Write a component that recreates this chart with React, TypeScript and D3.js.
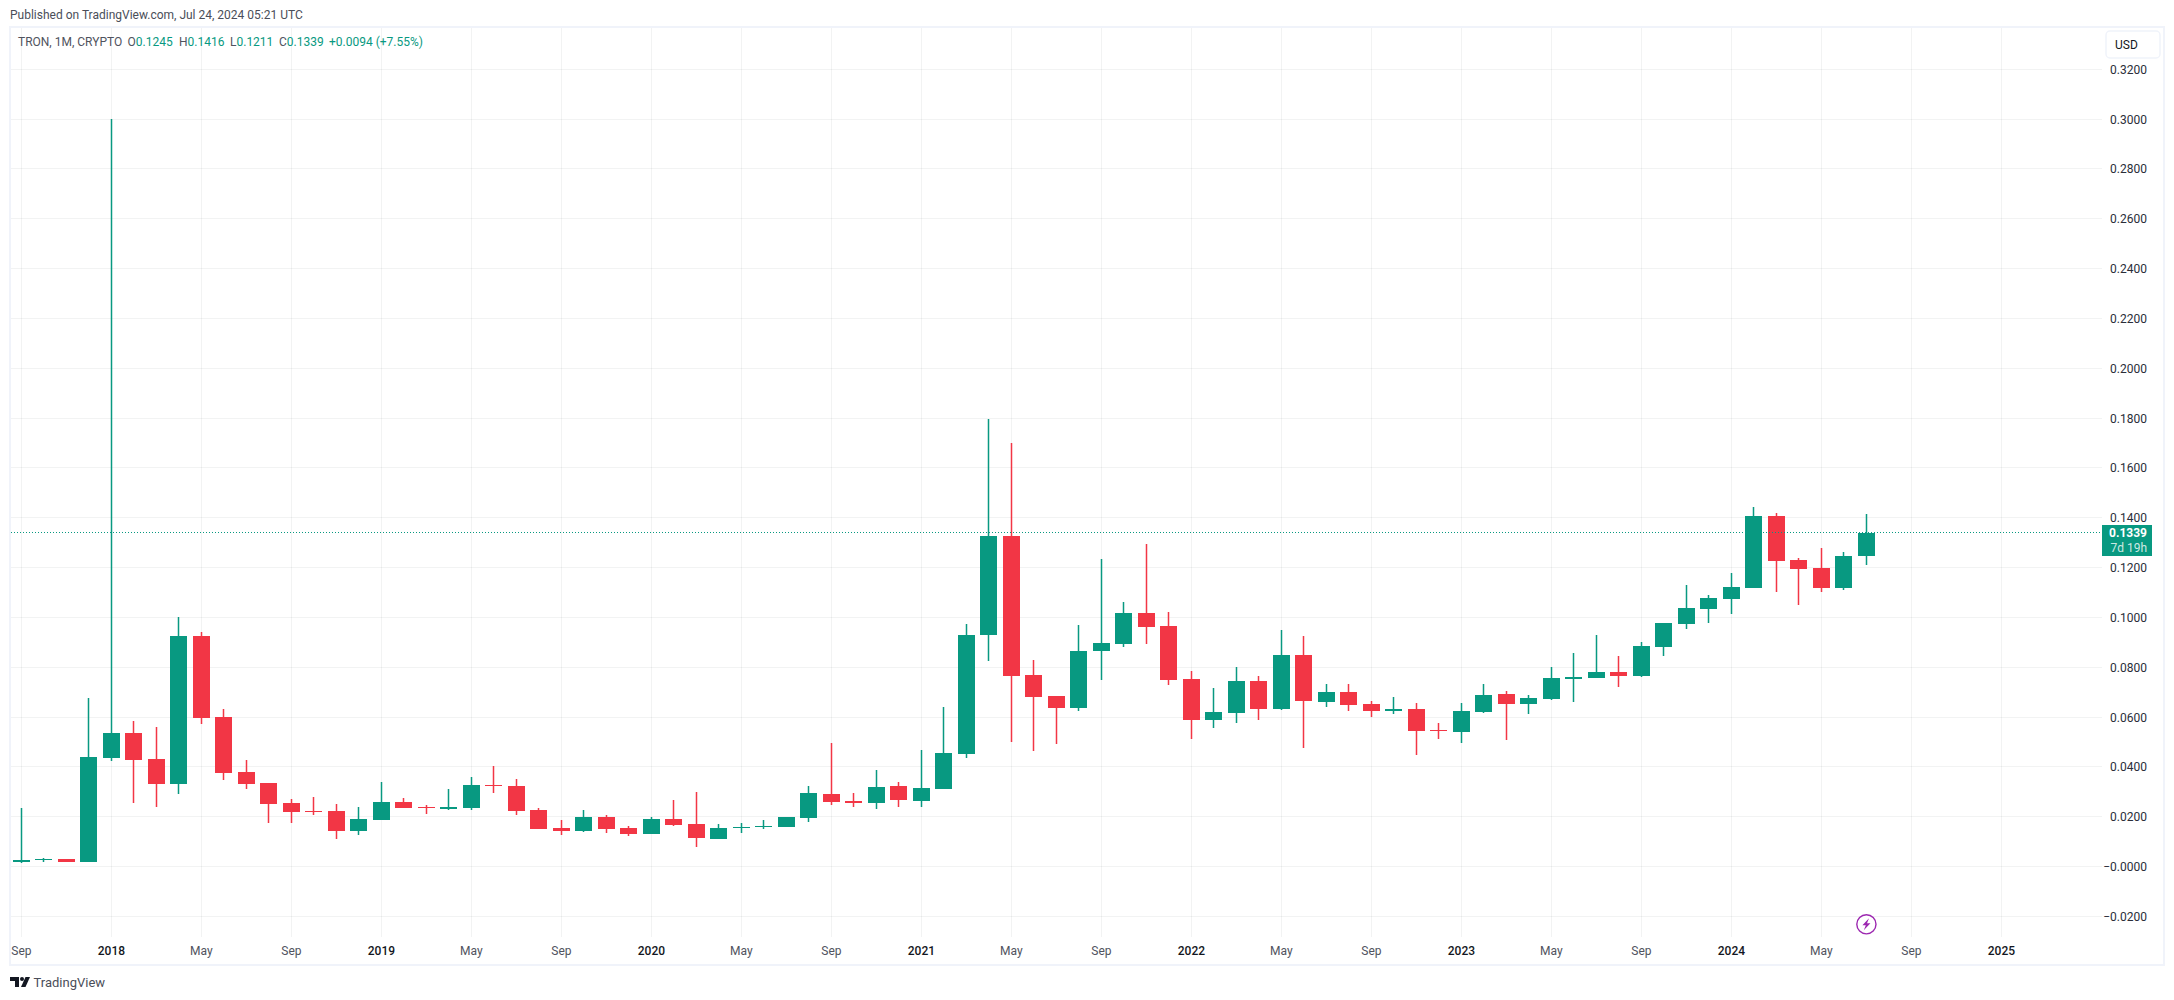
import React, { useEffect, useRef } from 'react';
import * as d3 from 'd3';

// Monthly candles, Sep 2017 to Jul 2024
const opens = [
  0.0017, 0.0025, 0.0029, 0.0017, 0.0437, 0.0537, 0.0433, 0.0333, 0.0925, 0.0601, 0.0381, 0.0337,
  0.0253, 0.0221, 0.0221, 0.0141, 0.0185, 0.0257, 0.0237, 0.0229, 0.0233, 0.0329, 0.0325, 0.0225,
  0.0153, 0.0141, 0.0197, 0.0153, 0.0129, 0.0189, 0.0169, 0.0109, 0.0153, 0.0157, 0.0157, 0.0193,
  0.0289, 0.0261, 0.0253, 0.0325, 0.0261, 0.0309, 0.0453, 0.0929, 0.1325, 0.0769, 0.0685, 0.0637,
  0.0865, 0.0893, 0.1017, 0.0965, 0.0753, 0.0589, 0.0617, 0.0745, 0.0633, 0.0849, 0.0661, 0.0701,
  0.0653, 0.0625, 0.0633, 0.0549, 0.0541, 0.0621, 0.0693, 0.0653, 0.0673, 0.0753, 0.0757, 0.0781,
  0.0765, 0.0881, 0.0973, 0.1033, 0.1073, 0.1117, 0.1405, 0.1229, 0.1197, 0.1117, 0.1245,
];
const highs = [
  0.0233, 0.0035, 0.0029, 0.0677, 0.3, 0.0585, 0.0561, 0.1001, 0.0941, 0.0633, 0.0429, 0.0337,
  0.0269, 0.0277, 0.0249, 0.0237, 0.0341, 0.0273, 0.0245, 0.0313, 0.0361, 0.0405, 0.0353, 0.0233,
  0.0185, 0.0225, 0.0205, 0.0161, 0.0197, 0.0265, 0.0297, 0.0169, 0.0173, 0.0185, 0.0197, 0.0325,
  0.0497, 0.0293, 0.0389, 0.0341, 0.0469, 0.0641, 0.0973, 0.1797, 0.1701, 0.0829, 0.0685, 0.0969,
  0.1233, 0.1061, 0.1293, 0.1021, 0.0785, 0.0717, 0.0801, 0.0765, 0.0949, 0.0925, 0.0733, 0.0733,
  0.0665, 0.0681, 0.0657, 0.0577, 0.0657, 0.0733, 0.0705, 0.0689, 0.0801, 0.0857, 0.0929, 0.0845,
  0.0901, 0.0977, 0.1129, 0.1089, 0.1177, 0.1441, 0.1417, 0.1237, 0.1277, 0.1261, 0.1416,
];
const lows = [
  0.0013, 0.0019, 0.0017, 0.0017, 0.0425, 0.0253, 0.0237, 0.0289, 0.0573, 0.0349, 0.0313, 0.0173,
  0.0173, 0.0205, 0.0109, 0.0125, 0.0185, 0.0233, 0.0209, 0.0225, 0.0225, 0.0293, 0.0205, 0.0149,
  0.0125, 0.0137, 0.0133, 0.0121, 0.0129, 0.0161, 0.0077, 0.0109, 0.0133, 0.0149, 0.0157, 0.0177,
  0.0245, 0.0237, 0.0229, 0.0237, 0.0237, 0.0309, 0.0437, 0.0825, 0.0501, 0.0465, 0.0493, 0.0625,
  0.0749, 0.0881, 0.0893, 0.0729, 0.0513, 0.0557, 0.0577, 0.0589, 0.0629, 0.0477, 0.0641, 0.0625,
  0.0601, 0.0613, 0.0449, 0.0513, 0.0497, 0.0617, 0.0509, 0.0613, 0.0669, 0.0661, 0.0757, 0.0721,
  0.0761, 0.0845, 0.0953, 0.0977, 0.1013, 0.1117, 0.1101, 0.1049, 0.1101, 0.1109, 0.1211,
];
const closes = [
  0.0025, 0.0029, 0.0017, 0.0441, 0.0537, 0.0429, 0.0333, 0.0925, 0.0597, 0.0377, 0.0333, 0.0249,
  0.0217, 0.0217, 0.0141, 0.0189, 0.0257, 0.0233, 0.0233, 0.0237, 0.0329, 0.0325, 0.0221, 0.0149,
  0.0141, 0.0197, 0.0149, 0.0129, 0.0189, 0.0165, 0.0113, 0.0153, 0.0157, 0.0161, 0.0197, 0.0293,
  0.0257, 0.0253, 0.0321, 0.0265, 0.0317, 0.0457, 0.0929, 0.1325, 0.0765, 0.0681, 0.0637, 0.0865,
  0.0897, 0.1017, 0.0961, 0.0749, 0.0589, 0.0621, 0.0745, 0.0633, 0.0849, 0.0665, 0.0701, 0.0649,
  0.0625, 0.0633, 0.0545, 0.0545, 0.0625, 0.0689, 0.0653, 0.0677, 0.0757, 0.0761, 0.0781, 0.0765,
  0.0885, 0.0977, 0.1037, 0.1077, 0.1121, 0.1405, 0.1225, 0.1193, 0.1117, 0.1245, 0.1339,
];

// Axis ticks
const priceTicks = [
  -0.02, 0, 0.02, 0.04, 0.06, 0.08, 0.1, 0.12, 0.14, 0.16, 0.18, 0.2, 0.22, 0.24, 0.26, 0.28, 0.3, 0.32,
];
const timeTickIndex = [0, 4, 8, 12, 16, 20, 24, 28, 32, 36, 40, 44, 48, 52, 56, 60, 64, 68, 72, 76, 80, 84, 88];
const timeTickLabels = [
  'Sep', '2018', 'May', 'Sep', '2019', 'May', 'Sep', '2020', 'May', 'Sep', '2021', 'May',
  'Sep', '2022', 'May', 'Sep', '2023', 'May', 'Sep', '2024', 'May', 'Sep', '2025',
];
const lastPrice = 0.1339;

const UP = '#089981';
const DOWN = '#F23645';
const FRAME = '#f0f3fa';
const GRID = 'rgba(42,46,57,0.06)';
const FONT = 'Roboto, sans-serif';

const WIDTH = 2174;
const HEIGHT = 1000;
const PLOT = { left: 11, right: 2102, top: 28, bottom: 937 };

export default function App() {
  const svgRef = useRef<SVGSVGElement>(null);

  useEffect(() => {
    if (!svgRef.current) return;
    const svg = d3.select(svgRef.current);
    svg.selectAll('*').remove();

    const x = d3.scaleLinear().domain([0, 88]).range([21.4, 2001.4]);
    const y = d3.scaleLinear().domain([-0.02, 0.32]).range([916.3, 69.3]);

    // Frame
    svg
      .append('rect')
      .attr('x', 10)
      .attr('y', 27)
      .attr('width', 2154)
      .attr('height', 938)
      .attr('fill', '#fff')
      .attr('stroke', FRAME)
      .attr('stroke-width', 2)
      .attr('shape-rendering', 'crispEdges');

    // Grid
    const grid = svg.append('g').attr('stroke', GRID).attr('shape-rendering', 'crispEdges');
    grid
      .selectAll('line.h')
      .data(priceTicks)
      .enter()
      .append('line')
      .attr('x1', PLOT.left)
      .attr('x2', PLOT.right)
      .attr('y1', (d) => Math.floor(y(d)) + 0.5)
      .attr('y2', (d) => Math.floor(y(d)) + 0.5);
    grid
      .selectAll('line.v')
      .data(timeTickIndex)
      .enter()
      .append('line')
      .attr('x1', (d) => Math.floor(x(d)) + 0.5)
      .attr('x2', (d) => Math.floor(x(d)) + 0.5)
      .attr('y1', PLOT.top)
      .attr('y2', PLOT.bottom);

    // Candles
    const candles = svg
      .append('g')
      .selectAll('g')
      .data(d3.range(opens.length))
      .enter()
      .append('g')
      .attr('fill', (i) => (closes[i] >= opens[i] ? UP : DOWN));
    candles
      .append('rect')
      .attr('x', (i) => Math.floor(x(i)) - 0.25)
      .attr('width', 1.5)
      .attr('y', (i) => Math.round(y(highs[i])))
      .attr('height', (i) => Math.max(1, Math.round(y(lows[i])) - Math.round(y(highs[i]))));
    candles
      .append('rect')
      .attr('shape-rendering', 'crispEdges')
      .attr('x', (i) => Math.floor(x(i)) - 8)
      .attr('width', 17)
      .attr('y', (i) => Math.round(y(Math.max(opens[i], closes[i]))))
      .attr('height', (i) =>
        Math.max(1, Math.round(y(Math.min(opens[i], closes[i]))) - Math.round(y(Math.max(opens[i], closes[i]))))
      );

    // Last price line
    svg
      .append('line')
      .attr('x1', PLOT.left)
      .attr('x2', PLOT.right)
      .attr('y1', Math.floor(y(lastPrice)) + 0.5)
      .attr('y2', Math.floor(y(lastPrice)) + 0.5)
      .attr('stroke', UP)
      .attr('stroke-dasharray', '1 2')
      .attr('shape-rendering', 'crispEdges');

    // Price axis
    svg
      .append('g')
      .attr('font-family', FONT)
      .attr('font-size', 12)
      .attr('fill', '#2a2e39')
      .attr('text-anchor', 'end')
      .selectAll('text')
      .data(priceTicks)
      .enter()
      .append('text')
      .attr('x', 2147)
      .attr('y', (d) => y(d) + 4.5)
      .text((d) => (d <= 0 ? '\u2212' : '') + Math.abs(d).toFixed(4));

    // Last price badge
    const badgeY = y(lastPrice) - 8;
    svg
      .append('rect')
      .attr('x', 2102)
      .attr('y', Math.round(badgeY))
      .attr('width', 50)
      .attr('height', 31)
      .attr('fill', UP);
    svg
      .append('text')
      .attr('x', 2147)
      .attr('y', badgeY + 12.5)
      .attr('text-anchor', 'end')
      .attr('font-family', FONT)
      .attr('font-size', 12)
      .attr('font-weight', 700)
      .attr('fill', '#fff')
      .text(lastPrice.toFixed(4));
    svg
      .append('text')
      .attr('x', 2147)
      .attr('y', badgeY + 27)
      .attr('text-anchor', 'end')
      .attr('font-family', FONT)
      .attr('font-size', 12)
      .attr('fill', '#fff')
      .attr('fill-opacity', 0.8)
      .text('7d 19h');

    // Currency button
    svg
      .append('rect')
      .attr('x', 2106)
      .attr('y', 31)
      .attr('width', 54)
      .attr('height', 27)
      .attr('rx', 4)
      .attr('fill', '#fff')
      .attr('stroke', FRAME)
      .attr('stroke-width', 1.5);
    svg
      .append('text')
      .attr('x', 2115)
      .attr('y', 48.5)
      .attr('font-family', FONT)
      .attr('font-size', 12)
      .attr('fill', '#131722')
      .text('USD');

    // Time axis
    svg
      .append('g')
      .attr('font-family', FONT)
      .attr('font-size', 12)
      .attr('text-anchor', 'middle')
      .selectAll('text')
      .data(timeTickIndex)
      .enter()
      .append('text')
      .attr('x', (d) => x(d))
      .attr('y', 955)
      .attr('font-weight', (_, i) => (/^\d/.test(timeTickLabels[i]) ? 500 : 400))
      .attr('fill', (_, i) => (/^\d/.test(timeTickLabels[i]) ? '#131722' : '#50535e'))
      .text((_, i) => timeTickLabels[i]);

    // Publish line
    svg
      .append('text')
      .attr('x', 10)
      .attr('y', 19)
      .attr('font-family', FONT)
      .attr('font-size', 12)
      .attr('fill', '#4a4e59')
      .text('Published on TradingView.com, Jul 24, 2024 05:21 UTC');

    // OHLC legend
    const legend = svg
      .append('text')
      .attr('x', 18)
      .attr('y', 46)
      .attr('font-family', FONT)
      .attr('font-size', 12)
      .attr('fill', '#50535e');
    legend.append('tspan').text('TRON, 1M, CRYPTO');
    const fields = [
      ['O', opens[82], 127.5],
      ['H', highs[82], 179],
      ['L', lows[82], 230],
      ['C', closes[82], 279],
    ] as [string, number, number][];
    fields.forEach(([name, value, at]) => {
      legend.append('tspan').attr('x', at).text(name);
      legend.append('tspan').attr('fill', UP).text(value.toFixed(4));
    });
    legend.append('tspan').attr('x', 329).attr('fill', UP).text('+0.0094 (+7.55%)');

    // Lightning marker
    const marker = svg.append('g').attr('transform', `translate(${x(82)},924.3)`);
    marker.append('circle').attr('r', 9.6).attr('fill', '#fff').attr('stroke', '#9c27b0').attr('stroke-width', 1.4);
    marker.append('path').attr('d', 'M2.6,-6 L-4,1 L-0.6,1 L-2.6,6 L4,-1 L0.6,-1 Z').attr('fill', '#9c27b0');

    // Logo
    const logo = svg.append('g').attr('transform', 'translate(10,977)').attr('fill', '#131722');
    logo.append('path').attr('d', 'M0,0 H9 V10 H5 V4 H0 Z');
    logo.append('circle').attr('cx', 12).attr('cy', 2).attr('r', 2);
    logo.append('path').attr('d', 'M15.5,0 H20 L15.5,10 H11 Z');
    svg
      .append('text')
      .attr('x', 33.5)
      .attr('y', 987)
      .attr('font-family', FONT)
      .attr('font-size', 13)
      .attr('fill', '#4a4e59')
      .text('TradingView');
  }, []);

  return (
    <svg
      ref={svgRef}
      width={WIDTH}
      height={HEIGHT}
      style={{ position: 'absolute', left: 0, top: 0, display: 'block', background: '#fff' }}
      role="img"
      aria-label="TRON monthly candlestick chart"
    />
  );
}
